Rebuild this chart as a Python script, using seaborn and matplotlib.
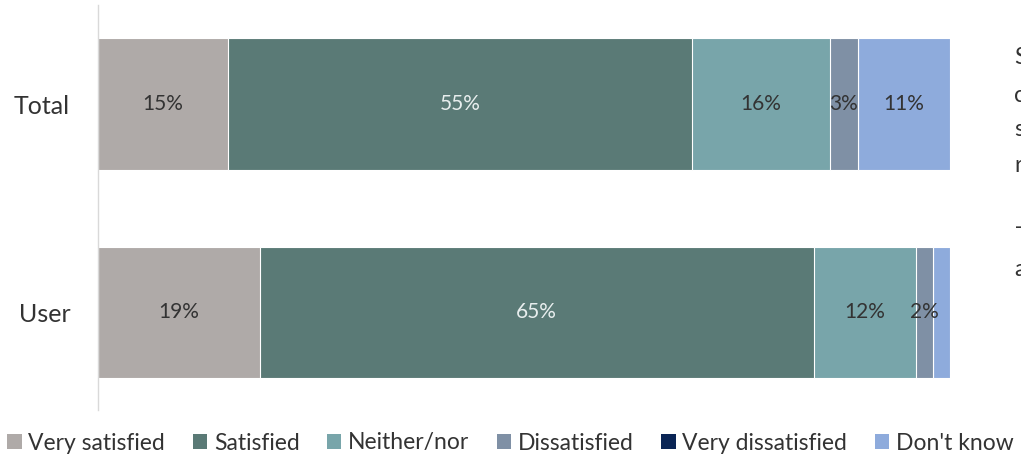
import numpy as np
import pandas as pd
import matplotlib
matplotlib.use("Agg")
import matplotlib.pyplot as plt
import seaborn as sns
from matplotlib.patches import Patch

groups = ["Total", "User"]
categories = ["Very satisfied", "Satisfied", "Neither/nor", "Dissatisfied", "Very dissatisfied", "Don't know"]
very_satisfied = [15.3, 19.0]
satisfied = [54.4, 65.0]
neither = [16.2, 12.0]
dissatisfied = [3.3, 2.0]
very_dissatisfied = [0.0, 0.0]
dont_know = [10.8, 2.0]
labels_total = ["15%", "55%", "16%", "3%", "", "11%"]
labels_user = ["19%", "65%", "12%", "2%", "", ""]

colors = ["#AFAAA8", "#5A7A76", "#78A5AA", "#7F90A5", "#0A2555", "#8EABDC"]
label_colors = ["#333333", "#E8EEEE", "#333333", "#333333", "#333333", "#333333"]

sns.set_theme(style="white")
plt.rcParams["font.family"] = ["Lato", "DejaVu Sans"]

values = np.array([very_satisfied, satisfied, neither, dissatisfied, very_dissatisfied, dont_know])
cum = np.cumsum(values, axis=0)

fig = plt.figure(figsize=(10.21, 4.59), dpi=100)
ax = fig.add_axes([98/1021, 1 - 410/459, (950-98)/1021, (410-5)/459])

for i in range(len(categories) - 1, -1, -1):
    df = pd.DataFrame({"group": groups, "value": cum[i]})
    sns.barplot(data=df, x="value", y="group", color=colors[i], orient="h",
                width=0.63, edgecolor="white", linewidth=0.8, ax=ax, saturation=1)

for gi, labs in enumerate([labels_total, labels_user]):
    for ci, lab in enumerate(labs):
        if lab:
            center = cum[ci, gi] - values[ci, gi] / 2
            ax.text(center, gi, lab, ha="center", va="center", fontsize=15,
                    color=label_colors[ci])

ax.set_xlim(0, 100)
ax.set_ylim(1.471, -0.476)
ax.set_xlabel("")
ax.set_ylabel("")
ax.set_xticks([])
ax.tick_params(axis="y", length=0, pad=20, labelsize=18, labelcolor="#333333")
for s in ["top", "right", "bottom"]:
    ax.spines[s].set_visible(False)
ax.spines["left"].set_color("#D9D9D9")
ax.spines["left"].set_linewidth(1.0)

handles = [Patch(facecolor=c, edgecolor="none", label=l) for c, l in zip(colors, categories)]
leg = fig.legend(handles=handles, loc="center", bbox_to_anchor=(0.5, 1 - 443/459), ncol=6,
                 frameon=False, fontsize=16.5, handlelength=0.62, handleheight=0.62,
                 handletextpad=0.3, columnspacing=1.2, borderaxespad=0)
for t in leg.get_texts():
    t.set_color("#333333")

side = ["Se", "cc", "so", "ra", "–", "ab"]
ys = [58, 95, 130, 165, 228, 270]
for s, y in zip(side, ys):
    fig.text(1014/1021, 1 - y/459, s, ha="left", va="center", fontsize=16.5, color="#333333")

fig.savefig("out.png", dpi=100)
